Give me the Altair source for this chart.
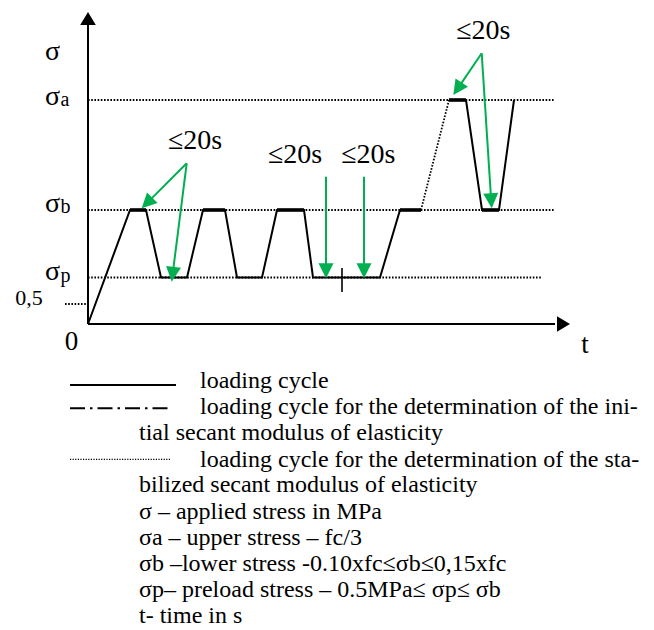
import altair as alt
import pandas as pd
import numpy as np

# ---------------- data (diagram units: t to the right of origin, s above origin) -------------
SIGMA_A = 224.0
SIGMA_B = 114.0
SIGMA_P = 46.5
PRELOAD = 20.0
LEVEL = {"0": 0.0, "a": SIGMA_A, "b": SIGMA_B, "p": SIGMA_P}

# solid loading cycle, first part
CYCLE1_T = [0, 42, 58, 73, 99, 115, 137, 149, 174, 189, 216, 225, 292, 312, 333]
CYCLE1_L = ["0", "b", "b", "p", "p", "b", "b", "p", "p", "b", "b", "p", "p", "b", "b"]
# dotted ramp up to sigma_a
RAMP_T = [333, 361]
RAMP_L = ["b", "a"]
# solid loading cycle, second part
CYCLE2_T = [361, 378, 394, 411, 426]
CYCLE2_L = ["a", "a", "b", "b", "a"]
# holding periods (drawn heavier)
HOLD_T0 = [42, 115, 189, 312, 361, 394]
HOLD_T1 = [58, 137, 216, 333, 378, 411]
HOLD_L = ["b", "b", "b", "b", "a", "b"]
# dotted reference levels
LEVEL_T1 = {"a": 466, "b": 466, "p": 454}
PRELOAD_T = [-23, -1]
# small tick on sigma_p
TICK_T = 254
TICK_S = [32, 56]

# axes
X_AXIS_END = 467
X_AXIS_TIP = 482
Y_AXIS_END = 299
Y_AXIS_TIP = 312

# green arrows: start (t, s) -> tip (t, s)
ARROW_T0 = [98.7, 98.7, 238, 276, 393.7, 393.7]
ARROW_S0 = [160.7, 160.7, 147.3, 147.3, 270.7, 270.7]
ARROW_T1 = [53.7, 83.7, 238, 276, 365.3, 403.7]
ARROW_S1 = [115.7, 42.3, 45.7, 45.7, 229.0, 115.7]

# duration labels
DUR_TEXT = ["≤20s", "≤20s", "≤20s", "≤20s"]
DUR_T = [107, 207, 280.3, 395.3]
DUR_S = [175, 161, 161, 284.7]

# axis labels: text, t, s(baseline), size
AX_TEXT = ["σ", "σ", "a", "σ", "b", "σ", "p", "0,5", "0", "t"]
AX_T = [-35.5, -35.5, -23, -35.5, -22.5, -35.5, -22.5, -59, -16.5, 497]
AX_S = [264, 219, 218, 112, 111, 44, 42, 19, -26, -29]
AX_SIZE = [28, 28, 20, 28, 20, 28, 20, 22, 27, 27]

# legend samples
LEG_T0 = -18
LEG_T1 = [88, 82, 82]
LEG_S = [-61, -84.3, -135.3]

LEGEND_TEXT = [
    "loading cycle",
    "loading cycle for the determination of the ini-",
    "tial secant modulus of elasticity",
    "loading cycle for the determination of the sta-",
    "bilized secant modulus of elasticity",
    "σ – applied stress in MPa",
    "σa – upper stress – fc/3",
    "σb –lower stress -0.10xfc≤σb≤0,15xfc",
    "σp– preload stress – 0.5MPa≤ σp≤ σb",
    "t- time in s",
]
LEGEND_T = [112, 112, 51, 112, 51, 51, 51, 51, 51, 51]
LEGEND_S = [-64.3, -89.5, -116, -142.5, -168, -195, -221, -247, -272.5, -298.5]

X_DOMAIN = [-80, 558]
Y_DOMAIN = [-304, 316]

GREEN = "#00b050"
FONT = "'Liberation Serif', 'Times New Roman', Times, 'DejaVu Serif', serif"

# ---------------- build tables ----------------
def rows(seg, ts, ss):
    return [dict(seg=seg, i=k, t=float(t), s=float(s)) for k, (t, s) in enumerate(zip(ts, ss))]

solid = []
solid += rows("c1", CYCLE1_T, [LEVEL[l] for l in CYCLE1_L])
solid += rows("c2", CYCLE2_T, [LEVEL[l] for l in CYCLE2_L])
solid += rows("yaxis", [0, 0], [0, Y_AXIS_END])
solid += rows("xaxis", [0, X_AXIS_END], [0, 0])
solid += rows("leg1", [LEG_T0, LEG_T1[0]], [LEG_S[0], LEG_S[0]])
solid_df = pd.DataFrame(solid)

tick_df = pd.DataFrame(rows("tick", [TICK_T, TICK_T], TICK_S))

hold = []
for k, (a, b, l) in enumerate(zip(HOLD_T0, HOLD_T1, HOLD_L)):
    hold += rows(f"h{k}", [a, b], [LEVEL[l], LEVEL[l]])
hold_df = pd.DataFrame(hold)

dotted = []
for l, t1 in LEVEL_T1.items():
    dotted += rows(f"lv{l}", [0, t1], [LEVEL[l], LEVEL[l]])
dotted += rows("pre", PRELOAD_T, [PRELOAD, PRELOAD])
dotted += rows("ramp", RAMP_T, [LEVEL[l] for l in RAMP_L])
dotted_df = pd.DataFrame(dotted)

legdot_df = pd.DataFrame(rows("leg3", [LEG_T0, LEG_T1[2]], [LEG_S[2], LEG_S[2]]))
legdash_df = pd.DataFrame(rows("leg2", [LEG_T0, LEG_T1[1]], [LEG_S[1], LEG_S[1]]))

# green arrows: shaft stops inside the head
HEAD_LEN = 15.0
green = []
heads = []
for k in range(len(ARROW_T0)):
    t0, s0, t1, s1 = ARROW_T0[k], ARROW_S0[k], ARROW_T1[k], ARROW_S1[k]
    d = np.hypot(t1 - t0, s1 - s0)
    ut, us = (t1 - t0) / d, (s1 - s0) / d
    green += rows(f"g{k}", [t0, t1 - ut * HEAD_LEN * 0.7], [s0, s1 - us * HEAD_LEN * 0.7])
    ang = (np.degrees(np.arctan2(ut, us)) + 360) % 360
    heads.append(dict(t=t1, s=s1, angle=float(ang)))
green_df = pd.DataFrame(green)
heads_df = pd.DataFrame(heads)

axis_heads_df = pd.DataFrame([
    dict(t=0.0, s=float(Y_AXIS_TIP), angle=0.0),
    dict(t=float(X_AXIS_TIP), s=0.0, angle=90.0),
])

dur_df = pd.DataFrame(dict(text=DUR_TEXT, t=DUR_T, s=DUR_S))
ax_df = pd.DataFrame(dict(text=AX_TEXT, t=AX_T, s=AX_S, size=AX_SIZE))
leg_df = pd.DataFrame(dict(text=LEGEND_TEXT, t=LEGEND_T, s=LEGEND_S))

# ---------------- chart ----------------
xs = alt.Scale(domain=X_DOMAIN, nice=False, zero=False)
ys = alt.Scale(domain=Y_DOMAIN, nice=False, zero=False)
X = alt.X("t:Q", scale=xs, axis=None)
Y = alt.Y("s:Q", scale=ys, axis=None)
ORD = alt.Order("i:Q")
DET = alt.Detail("seg:N")

def line_layer(df, **kw):
    return alt.Chart(df).mark_line(strokeCap="butt", **kw).encode(x=X, y=Y, order=ORD, detail=DET)

l_dotted = line_layer(dotted_df, color="black", strokeWidth=1.8, strokeDash=[1.6, 1.6])
l_legdot = line_layer(legdot_df, color="black", strokeWidth=1.2, strokeDash=[1.2, 1.4])
l_legdash = line_layer(legdash_df, color="black", strokeWidth=2, strokeDash=[15, 5, 2.5, 5])
l_solid = line_layer(solid_df, color="black", strokeWidth=2, strokeJoin="miter")
l_tick = line_layer(tick_df, color="black", strokeWidth=1.6)
l_hold = line_layer(hold_df, color="black", strokeWidth=3.6)
l_green = line_layer(green_df, color=GREEN, strokeWidth=2)

HEAD_SHAPE = "M0,0L0.5,1L-0.5,1Z"
AXIS_HEAD_SHAPE = "M0,0L0.6,1L-0.6,1Z"
p_heads = alt.Chart(heads_df).mark_point(
    shape=HEAD_SHAPE, filled=True, color=GREEN, opacity=1, size=(2 * HEAD_LEN) ** 2, strokeWidth=0
).encode(x=X, y=Y, angle=alt.Angle("angle:Q", scale=None))
p_axheads = alt.Chart(axis_heads_df).mark_point(
    shape=AXIS_HEAD_SHAPE, filled=True, color="black", opacity=1, size=26 ** 2, strokeWidth=0
).encode(x=X, y=Y, angle=alt.Angle("angle:Q", scale=None))

t_dur = alt.Chart(dur_df).mark_text(
    font=FONT, fontSize=28, color="black", align="center", baseline="alphabetic"
).encode(x=X, y=Y, text="text:N")
t_ax = alt.Chart(ax_df).mark_text(
    font=FONT, color="black", align="center", baseline="alphabetic"
).encode(x=X, y=Y, text="text:N", size=alt.Size("size:Q", scale=None))
t_leg = alt.Chart(leg_df).mark_text(
    font=FONT, fontSize=24, color="black", align="left", baseline="alphabetic"
).encode(x=X, y=Y, text="text:N")

chart = alt.layer(
    l_dotted, l_legdot, l_legdash, l_solid, l_tick, l_hold, l_green,
    p_heads, p_axheads, t_dur, t_ax, t_leg
).properties(
    width=638, height=620, padding=0, autosize=alt.AutoSizeParams(type="none"), background="white"
).configure_view(stroke=None)

chart.save("out.html", embed_options={"renderer": "svg", "actions": False})
